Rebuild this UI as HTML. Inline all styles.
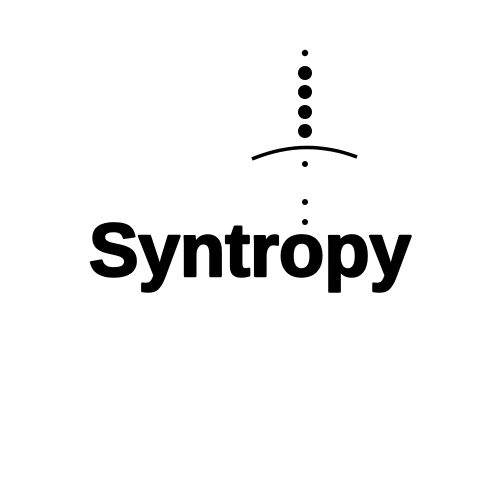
<!DOCTYPE html>
<html><head><meta charset="utf-8"><style>
html,body{margin:0;padding:0;background:#fff;width:500px;height:500px;overflow:hidden}
svg{display:block}
</style></head><body>
<svg width="500" height="500" viewBox="0 0 500 500">
<g fill="#000">
<circle cx="305" cy="53" r="3.2"/>
<circle cx="305" cy="73" r="7"/>
<circle cx="305" cy="92" r="7"/>
<circle cx="305" cy="112" r="7"/>
<circle cx="305" cy="131" r="7"/>
<path d="M252 159 Q305 137 357 157" stroke="#000" stroke-width="3.5" fill="none"/>
<circle cx="305" cy="164" r="3"/>
<circle cx="305" cy="202" r="3"/>
<circle cx="305" cy="222" r="3"/>
</g>
<text x="250" y="276" text-anchor="middle" font-family="Liberation Sans, sans-serif" font-weight="bold" font-size="75" textLength="322" lengthAdjust="spacingAndGlyphs" fill="#000" stroke="#000" stroke-width="2.5" stroke-linejoin="round">Syntropy</text>
</svg>
</body></html>
